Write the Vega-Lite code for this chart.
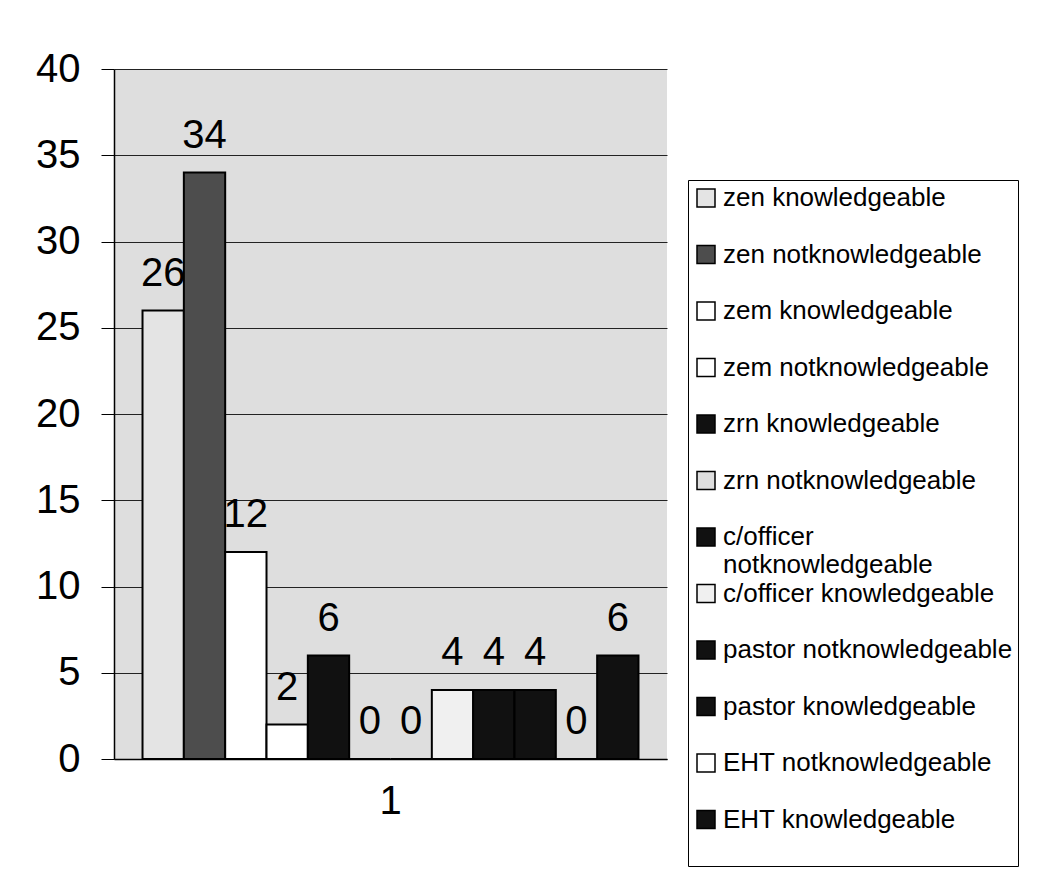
{
  "$schema": "https://vega.github.io/schema/vega-lite/v6.json",
  "autosize": "none",
  "width": 553,
  "height": 690,
  "padding": {"left": 114, "top": 69, "right": 377, "bottom": 115},
  "background": "white",
  "data": {
    "values": [
      {"group": "1", "series": "zen knowledgeable", "value": 26},
      {"group": "1", "series": "zen notknowledgeable", "value": 34},
      {"group": "1", "series": "zem knowledgeable", "value": 12},
      {"group": "1", "series": "zem notknowledgeable", "value": 2},
      {"group": "1", "series": "zrn knowledgeable", "value": 6},
      {"group": "1", "series": "zrn notknowledgeable", "value": 0},
      {"group": "1", "series": "c/officer notknowledgeable", "value": 0},
      {"group": "1", "series": "c/officer knowledgeable", "value": 4},
      {"group": "1", "series": "pastor notknowledgeable", "value": 4},
      {"group": "1", "series": "pastor knowledgeable", "value": 4},
      {"group": "1", "series": "EHT notknowledgeable", "value": 0},
      {"group": "1", "series": "EHT knowledgeable", "value": 6}
    ]
  },
  "encoding": {
    "x": {
      "field": "group", "type": "nominal",
      "scale": {"paddingInner": 0, "paddingOuter": 0.0575},
      "axis": {
        "title": null, "labelAngle": 0, "ticks": false, "labelPadding": 22,
        "labelFont": "Liberation Sans", "labelFontSize": 40, "labelColor": "black",
        "domainColor": "black", "domainWidth": 1.5
      }
    },
    "xOffset": {
      "field": "series", "type": "nominal",
      "sort": ["zen knowledgeable", "zen notknowledgeable", "zem knowledgeable", "zem notknowledgeable", "zrn knowledgeable", "zrn notknowledgeable", "c/officer notknowledgeable", "c/officer knowledgeable", "pastor notknowledgeable", "pastor knowledgeable", "EHT notknowledgeable", "EHT knowledgeable"],
      "scale": {"paddingInner": 0, "paddingOuter": 0}
    },
    "y": {
      "field": "value", "type": "quantitative",
      "scale": {"domain": [0, 40], "nice": false},
      "axis": {
        "title": null, "values": [0, 5, 10, 15, 20, 25, 30, 35, 40],
        "labelFont": "Liberation Sans", "labelFontSize": 40, "labelColor": "black",
        "labelPadding": 21, "tickSize": 13, "tickColor": "black", "tickWidth": 1,
        "domainColor": "black", "domainWidth": 1.5,
        "grid": true, "gridColor": "#222222", "gridWidth": 1
      }
    }
  },
  "layer": [
    {
      "mark": {"type": "bar", "stroke": "black", "strokeWidth": 2},
      "encoding": {
        "color": {
          "field": "series", "type": "nominal",
          "sort": ["zen knowledgeable", "zen notknowledgeable", "zem knowledgeable", "zem notknowledgeable", "zrn knowledgeable", "zrn notknowledgeable", "c/officer notknowledgeable", "c/officer knowledgeable", "pastor notknowledgeable", "pastor knowledgeable", "EHT notknowledgeable", "EHT knowledgeable"],
          "scale": {
            "domain": ["zen knowledgeable", "zen notknowledgeable", "zem knowledgeable", "zem notknowledgeable", "zrn knowledgeable", "zrn notknowledgeable", "c/officer notknowledgeable", "c/officer knowledgeable", "pastor notknowledgeable", "pastor knowledgeable", "EHT notknowledgeable", "EHT knowledgeable"],
            "range": ["#e4e4e4", "#4d4d4d", "#ffffff", "#ffffff", "#111111", "#dedede", "#111111", "#f0f0f0", "#111111", "#111111", "#ffffff", "#111111"]
          },
          "legend": {
            "orient": "none", "legendX": 574, "legendY": 111,
            "title": " ", "titleOrient": "bottom", "titleFontSize": 20, "titlePadding": 8,
            "strokeColor": "black", "fillColor": "white", "padding": 5,
            "labelFont": "Liberation Sans", "labelFontSize": 26, "labelColor": "black",
            "labelLimit": 400, "labelOffset": 4, "labelLineHeight": 30,
            "symbolType": "square", "symbolSize": 324, "symbolStrokeColor": "black", "symbolStrokeWidth": 1.5,
            "rowPadding": 2.5, "gridAlign": "all",
            "labelExpr": "datum.label == 'c/officer notknowledgeable' ? ['c/officer', 'notknowledgeable'] : datum.label"
          }
        }
      }
    },
    {
      "mark": {"type": "text", "baseline": "alphabetic", "dy": -25, "font": "Liberation Sans", "fontSize": 40, "color": "black"},
      "encoding": {
        "text": {"field": "value", "type": "quantitative"}
      }
    }
  ],
  "config": {
    "view": {"fill": "#dedede", "stroke": null}
  }
}
